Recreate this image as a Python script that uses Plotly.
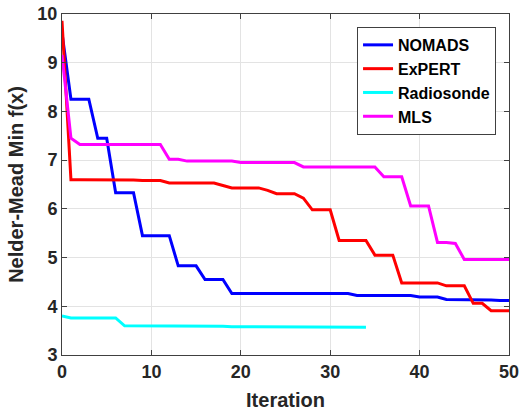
import plotly.graph_objects as go

iterations = list(range(51))

nomads = [9.61, 8.25, 8.25, 8.25, 7.45, 7.45, 6.33, 6.33, 6.33, 5.45,
          5.45, 5.45, 5.45, 4.83, 4.83, 4.83, 4.55, 4.55, 4.55, 4.26,
          4.26, 4.26, 4.26, 4.26, 4.26, 4.26, 4.26, 4.26, 4.26, 4.26,
          4.26, 4.26, 4.26, 4.22, 4.22, 4.22, 4.22, 4.22, 4.22, 4.22,
          4.19, 4.19, 4.19, 4.14, 4.14, 4.14, 4.14, 4.13, 4.13, 4.12,
          4.12]

expert = [9.86, 6.60, 6.60, 6.60, 6.60, 6.60, 6.60, 6.60, 6.59, 6.58,
          6.58, 6.58, 6.53, 6.53, 6.53, 6.53, 6.53, 6.53, 6.48, 6.43,
          6.43, 6.43, 6.43, 6.38, 6.31, 6.31, 6.31, 6.22, 5.98, 5.98,
          5.98, 5.35, 5.35, 5.35, 5.35, 5.05, 5.05, 5.05, 4.48, 4.48,
          4.48, 4.48, 4.48, 4.42, 4.42, 4.42, 4.06, 4.06, 3.91, 3.91,
          3.91]

radiosonde = [3.80, 3.76, 3.76, 3.76, 3.76, 3.76, 3.76, 3.60, 3.60, 3.60,
              3.60, 3.60, 3.60, 3.60, 3.60, 3.60, 3.60, 3.60, 3.59, 3.58,
              3.58, 3.58, 3.58, 3.57, 3.57, 3.57, 3.57, 3.57, 3.57, 3.57,
              3.57, 3.57, 3.57, 3.57, 3.57]

mls = [9.16, 7.45, 7.32, 7.32, 7.32, 7.32, 7.32, 7.32, 7.32, 7.32,
       7.32, 7.32, 7.02, 7.02, 6.98, 6.98, 6.98, 6.98, 6.98, 6.98,
       6.95, 6.95, 6.95, 6.95, 6.95, 6.95, 6.95, 6.86, 6.86, 6.86,
       6.86, 6.86, 6.86, 6.86, 6.86, 6.86, 6.66, 6.66, 6.66, 6.06,
       6.06, 6.06, 5.31, 5.31, 5.29, 4.96, 4.96, 4.96, 4.96, 4.96,
       4.96]

series = [("NOMADS", nomads, "#0000ff"),
          ("ExPERT", expert, "#ff0000"),
          ("Radiosonde", radiosonde, "#00ffff"),
          ("MLS", mls, "#ff00ff")]

x_ticks = [0, 10, 20, 30, 40, 50]
y_ticks = [3, 4, 5, 6, 7, 8, 9, 10]

fig = go.Figure()
for name, vals, color in series:
    fig.add_trace(go.Scatter(x=iterations[:len(vals)], y=vals, mode="lines",
                             name=f"<b>{name}</b>", line=dict(color=color, width=3)))

font_family = "Liberation Sans, Arial, Helvetica, sans-serif"
axis_common = dict(showline=True, linecolor="#404040", linewidth=1, mirror="allticks",
                   ticks="inside", ticklen=5, tickcolor="#404040",
                   showgrid=True, gridcolor="#e3e3e3", gridwidth=1, zeroline=False,
                   automargin=False,
                   tickfont=dict(family=font_family, size=18, color="#262626"))

fig.update_layout(
    width=520, height=415,
    margin=dict(l=62, r=11, t=14, b=60),
    paper_bgcolor="white", plot_bgcolor="white",
    font=dict(family=font_family, color="#262626"),
    showlegend=True,
    legend=dict(x=0.971, y=0.962, xanchor="right", yanchor="top",
                bgcolor="white", bordercolor="#404040", borderwidth=1,
                font=dict(family=font_family, size=16, color="black"),
                tracegroupgap=0, itemwidth=30),
    xaxis=dict(range=[0, 50], tickvals=x_ticks,
               ticktext=[f"<b>{v}</b>" for v in x_ticks],
               title=dict(text="<b>Iteration</b>", font=dict(size=20), standoff=12),
               **axis_common),
    yaxis=dict(range=[3, 10], tickvals=y_ticks,
               ticktext=[f"<b>{v}</b>" for v in y_ticks],
               title=dict(text="<b>Nelder-Mead Min f(x)</b>", font=dict(size=20), standoff=8),
               **axis_common),
)

fig.write_html("out.html",
               config={"displayModeBar": False},
               post_script="document.body.style.margin='0';document.body.style.overflow='hidden';")
